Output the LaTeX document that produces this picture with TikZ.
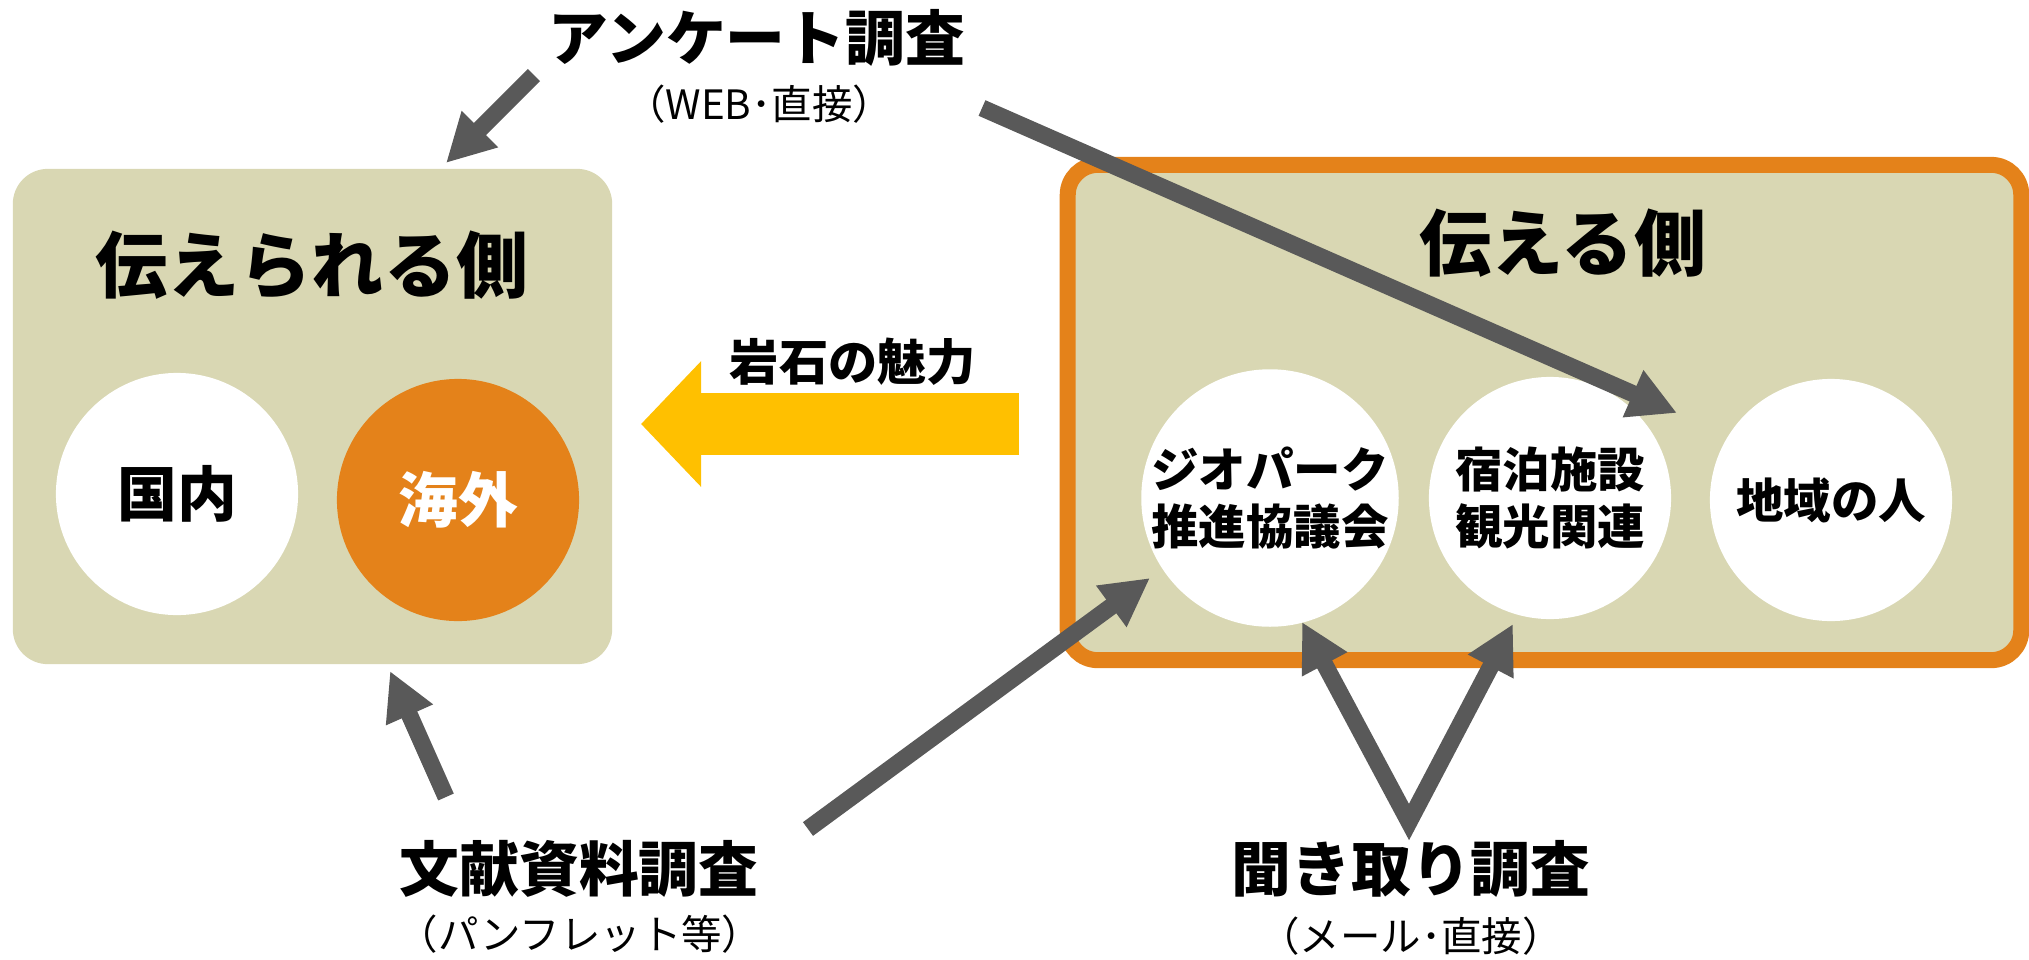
\documentclass[tikz,border=0pt]{standalone}
\usepackage{fontspec}
\setmainfont{Noto Sans CJK JP}
\usepackage{xcolor}
\usetikzlibrary{arrows.meta}

\definecolor{boxbeige}{HTML}{D9D7B3}
\definecolor{sideorange}{HTML}{E4821A}
\definecolor{rockyellow}{HTML}{FFC000}
\definecolor{arrowgray}{HTML}{595959}

\tikzset{
  recvbox/.style={fill=boxbeige, rounded corners=0.35cm, inner sep=0pt,
    minimum width=5.99cm, minimum height=4.95cm},
  sendbox/.style={fill=boxbeige, draw=sideorange, line width=0.16cm,
    rounded corners=0.3cm, inner sep=0pt, minimum width=9.53cm, minimum height=4.95cm},
  disc/.style={circle, fill=white, inner sep=0pt, minimum size=2.42cm, align=center},
  bigtitle/.style={font=\fontsize{20.5pt}{24pt}\selectfont\bfseries},
  method/.style={font=\fontsize{17pt}{20pt}\selectfont\bfseries},
  methodsub/.style={font=\fontsize{11.5pt}{14pt}\selectfont},
  disctext/.style={font=\fontsize{17pt}{20pt}\selectfont\bfseries},
  smalldisctext/.style={font=\fontsize{13.5pt}{16.2pt}\selectfont\bfseries},
  grayarrow/.style={draw=arrowgray, line width=0.17cm,
    -{Triangle[length=0.48cm, width=0.48cm]}},
  rockarrow/.style={draw=rockyellow, line width=0.62cm,
    -{Triangle[length=0.6cm, width=1.22cm]}}
}

\begin{document}
\begin{tikzpicture}[x=0.01cm, y=-0.01cm]
    \useasboundingbox (0,0) rectangle (2029,960);

    % Boxes
    \node[recvbox] (recv) at (312.5,416.5) {};
    \node[sendbox] (send) at (1544.5,412.5) {};

    \node[bigtitle] (recv-title) at (312,265) {伝えられる側};
    \node[bigtitle] (send-title) at (1563,243) {伝える側};

    % Circles, left
    \node[disc, disctext] (kokunai) at (177,494) {国内};
    \node[disc, disctext, fill=sideorange, text=white] (kaigai) at (458,500) {海外};

    % Circles, right
    \node[disc, smalldisctext] (geo) at (1270,498) {ジオパーク\\推進協議会};
    \node[disc, smalldisctext] (shuku) at (1550,498) {宿泊施設\\観光関連};
    \node[disc, smalldisctext] (chiiki) at (1831,500) {地域の人};

    % Methods
    \node[method] (ank-title) at (757,38) {アンケート調査};
    \node[methodsub] (ank-sub) at (759,104) {（WEB･直接）};
    \node[method] (bun-title) at (579,869) {文献資料調査};
    \node[methodsub] (bun-sub) at (580,934) {（パンフレット等）};
    \node[method] (kiki-title) at (1411,869) {聞き取り調査};
    \node[methodsub] (kiki-sub) at (1411,936) {（メール･直接）};

    % Arrow ends
    \coordinate (ank-a) at (534,75);
    \coordinate (ank-b) at (982,108);
    \coordinate (ank-recv) at (446,163);
    \coordinate (ank-send) at (1677,413);
    \coordinate (bun-a) at (446,797);
    \coordinate (bun-b) at (808,829);
    \coordinate (bun-recv) at (390,671);
    \coordinate (bun-geo) at (1150,578);
    \coordinate (kiki-v) at (1409,822);
    \coordinate (kiki-geo) at (1302,622);
    \coordinate (kiki-shuku) at (1513,624);
    \coordinate (rock-tail) at (1019,424);
    \coordinate (rock-tip) at (641,424);

    % Rock arrow
    \draw[rockarrow] (rock-tail) -- (rock-tip);
    \node[font=\fontsize{14pt}{17pt}\selectfont\bfseries] (rock-label) at (853,362) {岩石の魅力};

    % Gray arrows
    \draw[grayarrow] (ank-a) -- (ank-recv);
    \draw[grayarrow] (ank-b) -- (ank-send);
    \draw[grayarrow] (bun-a) -- (bun-recv);
    \draw[grayarrow] (bun-b) -- (bun-geo);
    \draw[grayarrow, {Triangle[length=0.48cm, width=0.48cm]}-{Triangle[length=0.48cm, width=0.48cm]}]
        (kiki-geo) -- (kiki-v) -- (kiki-shuku);
\end{tikzpicture}
\end{document}
